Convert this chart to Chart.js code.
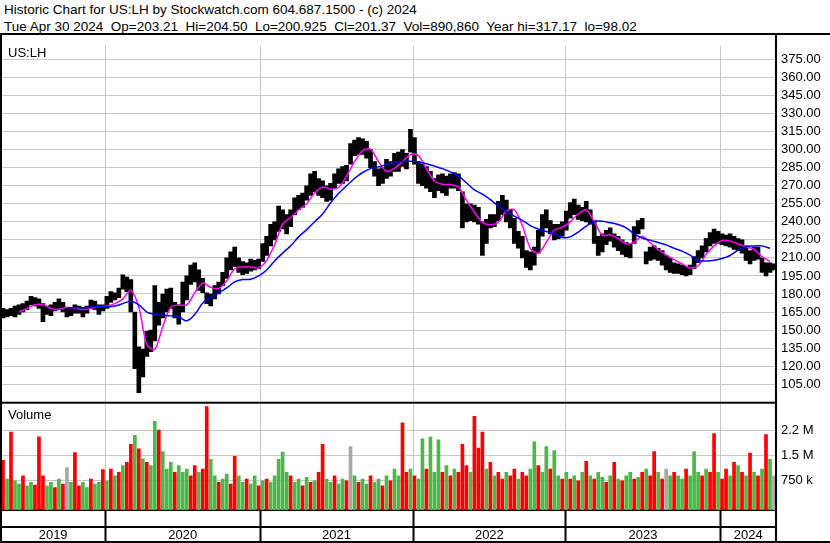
<!DOCTYPE html>
<html><head><meta charset="utf-8">
<script src="https://cdn.jsdelivr.net/npm/chart.js@4/dist/chart.umd.min.js"></script>
<style>
html,body{margin:0;padding:0;background:#fff;}
#wrap{position:relative;width:830px;height:543px;overflow:hidden;background:#fff;}
#hdr{position:absolute;left:4px;top:1px;font:13.5px "Liberation Sans",Arial,sans-serif;line-height:17px;white-space:pre;color:#000;}
#cv{position:absolute;left:0;top:33px;}
</style></head><body>
<div id="wrap">
<div id="hdr">Historic Chart for US:LH by Stockwatch.com 604.687.1500 - (c) 2024
Tue Apr 30 2024  Op=203.21  Hi=204.50  Lo=200.925  Cl=201.37  Vol=890,860  Year hi=317.17  lo=98.02</div>
<canvas id="cv" width="830" height="510"></canvas>
</div>
<script>
// ---- data (one sample per ~6.5 trading days, May 2019 .. Apr 2024) ----
const priceLow = [160,161,162,161,163,165,167,171,170,168, 157,163,162,166,168,165,161,162,164,164,
 161,164,168,167,163,166,168,173,175,177, 184,182,165,118,98,111,128,132,141,154,
 160,165,168,160,155,165,175,188,190,183, 181,172,170,176,180,187,193,200,203,198,
 196,197,199,200,201,207,212,220,225,232, 234,230,236,246,250,252,258,262,265,262,
 260,257,258,268,272,272,274,288,295,296, 296,293,285,278,270,272,276,278,282,282,
 286,284,298,288,272,270,268,265,260,266, 264,262,268,268,266,235,240,241,240,238,
 212,222,235,236,241,246,240,235,222,218, 210,202,200,204,214,228,235,230,225,226,
 228,233,243,246,242,241,240,238,222,212, 215,221,224,219,216,213,211,210,222,230,
 234,205,208,209,208,204,200,198,197,197, 196,195,196,201,206,210,215,220,222,222,
 221,220,219,217,216,214,208,205,208,209, 198,195,198,200];
const priceHigh = [168,167,168,170,171,172,174,178,177,176, 172,170,171,173,176,173,169,169,171,170,
 168,170,175,174,171,171,178,182,181,185, 196,194,192,165,136,134,149,150,187,173,
 180,184,185,173,171,190,195,204,206,200, 193,181,180,187,190,198,210,215,219,210,
 207,206,209,208,209,222,228,238,240,253, 250,246,250,260,262,264,270,280,282,276,
 274,270,272,280,284,286,287,305,308,310, 309,307,300,290,284,285,292,290,297,298,
 300,297,317,310,290,288,286,282,276,279, 280,278,280,281,280,265,255,255,254,252,
 240,242,246,246,257,262,258,250,243,232, 228,216,215,219,233,246,250,241,238,238,
 240,249,256,259,254,252,257,250,241,228, 230,233,235,230,228,225,223,222,236,241,
 243,215,219,220,218,216,212,210,206,205, 204,203,204,211,216,220,226,231,234,232,
 230,229,230,228,226,225,220,216,219,219, 210,206,206,205];
// moving averages, read every 2nd sample
const maStep = 2;
const maFast = [null,null,165,168,171,171,168,167,169,168, 167,168,169.5,170,172,176,183,169,138,134,
 153,169,170.7,171,181,189,185.5,184.5,191,201, 202.5,202.5,201.7,208,221,238,243.6,250,255,264,
 269,267,268.5,278,290,299,300.5,290,282,284.5, 290,296,295,284,274,271.2,271,269,258,248,
 239.6,237.5,239.6,249,250,237,218,214,223,233, 235.5,240,246.5,250,240,229,229,226,221.7,223,
 228,222.5,217,212.5,208.5,205,201.7,203.5,213,220, 224.5,224,221.5,219.3,217,211,207];
const maSlow = [null,null,null,null,null,null,null,null,168.5,168.5, 168.5,169,169.4,169.4,170,172,174,171,165,163,
 162.3,161.8,161,157.7,163,172.5,177.4,181,185,190, 192,192.3,195,200,207.5,214,220,227.5,233.5,240,
 246.5,255.8,263.5,270,276,281,284.2,285.7,287.7,289.3, 290.2,290.4,289.7,288.3,286.3,284.2,281.5,278.3,272.5,266.5,
 263,258.5,253,248.5,244.7,241.2,236.9,234,232,230, 227,227.5,231.5,236.5,240.3,240.5,239.3,237.7,235,230,
 226.5,224.8,222.8,220.8,218,215.6,212.3,208,207.5,208, 209.5,212,216.5,219.5,220,220,218];
// volume in thousands of shares; r = down, g = up, n = unchanged
const volume = [1360,800,2200,750,650,900,600,700,620,2060, 900,600,700,550,800,650,1140,700,1590,600,
 700,550,800,650,700,1080,750,1100,900,1000, 1200,1300,1830,2100,1700,1400,1300,1200,2520,2260,
 1620,1100,1300,1000,1200,1000,1100,900,1200,1000, 1100,2960,1390,900,700,800,950,650,1480,900,
 700,800,650,900,600,750,800,700,900,1390, 1600,1000,900,700,800,600,850,700,750,1000,
 1830,800,700,900,650,800,750,1770,900,700, 800,650,900,700,800,600,900,750,1100,900,
 2470,1000,1100,900,800,2000,1100,2050,1000,1970, 1000,1200,900,1100,1000,1830,1200,1000,2670,1720,
 2200,1100,1300,900,1000,800,1000,900,1100,800, 1000,900,1100,1910,1200,1000,1770,1100,1650,900,
 800,1000,800,900,750,1000,1330,900,800,1000, 850,700,900,1300,800,750,900,1000,800,850,
 1000,1100,900,1620,1000,800,1100,900,1000,900, 800,1100,900,1620,1000,900,1100,1000,2150,1000,
 800,1100,900,1300,1200,1000,900,1570,1000,900, 1100,2120,1390,900];
const volDir = "rgrggrggrr" + "rggrgrngrr" + "ggrggrgrgr" + "grrgrgrggr" + "gggrgggrrg" +
 "rrggrggrrg" + "grggrgrggg" + "ggrggrgrgr" + "rggrggrngr" + "ggrggrgrgg" +
 "rrgrggrggg" + "rgrgrrrgrr" + "rgrgrrgrrg" + "rrggrggrgg" + "rgrgrgrgrg" +
 "grgrgrggrg" + "rgrrgrngrg" + "grgggrgrrg" + "rrgrgrgrgr" + "grgn";
// year boundaries expressed in sample units
const yearBounds = [25.6, 64.35, 102.65, 140.85, 179.6];
const yearLabels = ["2019","2020","2021","2022","2023","2024"];
const priceTicks = [105,120,135,150,165,180,195,210,225,240,255,270,285,300,315,330,345,360,375];
const volTicks = [750,1500,2250];
const volTickLabels = ["750 k","1.5 M","2.2 M"];

// ---- build ----
const N = priceLow.length;
const xMin = -0.5, xMax = N - 0.5;
const edges = [xMin].concat(yearBounds, [xMax]);
const yearMids = yearLabels.map((_, i) => (edges[i] + edges[i + 1]) / 2);
const xTicks = yearBounds.map(v => ({value: v, kind: 'b'})).concat(yearMids.map((v, i) => ({value: v, kind: 'm', lab: yearLabels[i]})));
const FONT = '"Liberation Sans", Arial, sans-serif';
const dirColor = {r: '#ff0000', g: '#4cb848', n: '#a8a8a8'};
const isBound = c => c.tick && yearBounds.includes(c.tick.value);

const frame = {
  id: 'frame',
  afterDraw(chart) {
    const {ctx, chartArea: a, scales} = chart;
    const H = chart.height, W = chart.width;
    ctx.save();
    ctx.fillStyle = '#000';
    ctx.fillRect(0, 0, W, 2);                      // top rule
    ctx.fillRect(0, 0, 2, H);                      // left rule
    ctx.fillRect(a.right - 1, 0, 2, H);            // right rule of plot
    ctx.fillRect(a.left, scales.yv.top - 1, a.right - a.left, 2); // panel split
    ctx.fillRect(0, a.bottom + 16, a.right, 2);     // date row split
    ctx.fillRect(0, H - 2, W, 2);                  // bottom rule
    ctx.font = '13px ' + FONT;
    ctx.textBaseline = 'middle';
    ctx.fillText('US:LH', 8, scales.y.top + 8);
    ctx.fillText('Volume', 8, scales.yv.top + 13);
    ctx.restore();
  }
};

new Chart(document.getElementById('cv'), {
  data: {
    datasets: [
      {type: 'line', yAxisID: 'y', order: 0, data: maSlow.map((v, k) => ({x: k * maStep, y: v})),
       borderColor: '#0000ff', borderWidth: 1.5, pointRadius: 0, tension: 0.3, spanGaps: false},
      {type: 'line', yAxisID: 'y', order: 0, data: maFast.map((v, k) => ({x: k * maStep, y: v})),
       borderColor: '#ff00ff', borderWidth: 1.5, pointRadius: 0, tension: 0.3, spanGaps: false},
      {type: 'bar', yAxisID: 'y', order: 1, grouped: false, barThickness: 4,
       data: priceLow.map((lo, i) => ({x: i, y: [lo, priceHigh[i]]})), backgroundColor: '#000'},
      {type: 'bar', yAxisID: 'yv', order: 2, grouped: false, barThickness: 3, base: -120,
       data: volume.map((v, i) => ({x: i, y: v})),
       backgroundColor: volume.map((v, i) => dirColor[volDir[i]])}
    ]
  },
  options: {
    responsive: false, animation: false, events: [],
    layout: {padding: {top: 1, left: 1, right: 0, bottom: 0}},
    plugins: {legend: {display: false}, tooltip: {enabled: false}},
    scales: {
      x: {
        type: 'linear', position: 'bottom', min: xMin, max: xMax, offset: false,
        afterBuildTicks: s => { s.ticks = xTicks.map(t => ({value: t.value})); },
        afterFit: s => { s.height = 33; },
        ticks: {autoSkip: false, maxRotation: 0, padding: -15, color: '#000', font: {family: FONT, size: 13},
          callback: v => { const t = xTicks.find(q => q.value === v); return t && t.kind === 'm' ? t.lab : ''; }},
        grid: {offset: false, color: c => isBound(c) ? '#c8c8c8' : 'rgba(0,0,0,0)', tickColor: c => isBound(c) ? '#000' : 'rgba(0,0,0,0)',
               tickLength: 33, lineWidth: 1, tickWidth: 2},
        border: {display: true, color: '#000', width: 2}
      },
      y: {
        type: 'linear', position: 'right', stack: 'v', stackWeight: 366, weight: 0, min: 89.59, max: 386.35,
        afterBuildTicks: s => { s.ticks = priceTicks.map(v => ({value: v})); },
        afterFit: s => { s.width = 54; },
        ticks: {autoSkip: false, padding: 5, color: '#000', font: {family: FONT, size: 13}, callback: v => Number(v).toFixed(2)},
        grid: {drawTicks: false, color: '#c8c8c8', lineWidth: 1},
        border: {display: true, color: '#000', width: 2}
      },
      yv: {
        type: 'linear', position: 'right', stack: 'v', stackWeight: 110, weight: 1, min: -120, max: 3071,
        afterBuildTicks: s => { s.ticks = volTicks.map(v => ({value: v})); },
        afterFit: s => { s.width = 54; },
        ticks: {autoSkip: false, padding: 5, color: '#000', font: {family: FONT, size: 13}, callback: v => volTickLabels[volTicks.indexOf(v)]},
        grid: {drawTicks: false, color: '#c8c8c8', lineWidth: 1},
        border: {display: true, color: '#000', width: 2}
      }
    }
  },
  plugins: [frame]
});
</script>
</body></html>
